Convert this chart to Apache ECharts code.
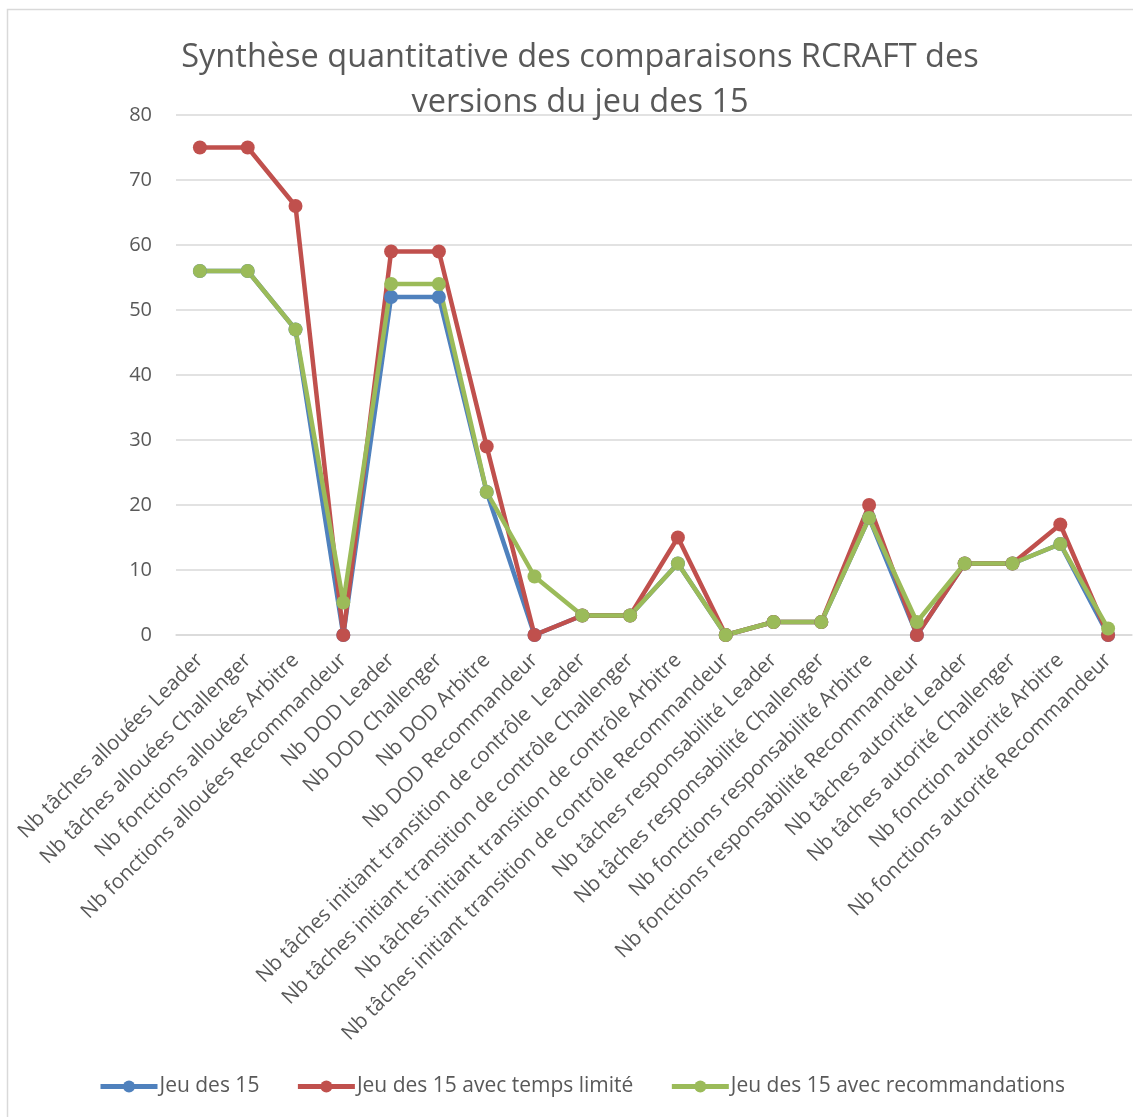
<!DOCTYPE html>
<html>
<head>
<meta charset="utf-8">
<script src="https://cdn.jsdelivr.net/npm/echarts@6/dist/echarts.min.js"></script>
<style>
html, body { margin: 0; padding: 0; background: #fff; }
#chart { width: 1133px; height: 1117px; }
</style>
</head>
<body>
<div id="chart"></div>
<script>
const categories = [
  'Nb tâches allouées Leader',
  'Nb tâches allouées Challenger',
  'Nb fonctions allouées Arbitre',
  'Nb fonctions allouées Recommandeur',
  'Nb DOD Leader',
  'Nb DOD Challenger',
  'Nb DOD Arbitre',
  'Nb DOD Recommandeur',
  'Nb tâches initiant transition de contrôle  Leader',
  'Nb tâches initiant transition de contrôle Challenger',
  'Nb tâches initiant transition de contrôle Arbitre',
  'Nb tâches initiant transition de contrôle Recommandeur',
  'Nb tâches responsabilité Leader',
  'Nb tâches responsabilité Challenger',
  'Nb fonctions responsabilité Arbitre',
  'Nb fonctions responsabilité Recommandeur',
  'Nb tâches autorité Leader',
  'Nb tâches autorité Challenger',
  'Nb fonction autorité Arbitre',
  'Nb fonctions autorité Recommandeur'
]
const jeu15 = [56, 56, 47, 0, 52, 52, 22, 0, 3, 3, 11, 0, 2, 2, 18, 0, 11, 11, 14, 0]
const jeu15Temps = [75, 75, 66, 0, 59, 59, 29, 0, 3, 3, 15, 0, 2, 2, 20, 0, 11, 11, 17, 0]
const jeu15Reco = [56, 56, 47, 5, 54, 54, 22, 9, 3, 3, 11, 0, 2, 2, 18, 2, 11, 11, 14, 1]

const font = 'Open Sans, Liberation Sans, sans-serif'
const txt = '#595959'

const mkSeries = (name, data, color) => ({
  name: name,
  type: 'line',
  data: data,
  symbol: 'circle',
  symbolSize: 14,
  itemStyle: { color: color },
  lineStyle: { width: 4.5, color: color }
})

const chart = echarts.init(document.getElementById('chart'))
chart.setOption({
  animation: false,
  textStyle: { fontFamily: font },
  title: {
    text: 'Synthèse quantitative des comparaisons RCRAFT des\nversions du jeu des 15',
    left: 575,
    textAlign: 'center',
    top: 30,
    textStyle: { fontSize: 32.5, fontWeight: 'normal', color: txt, lineHeight: 45, fontFamily: font }
  },
  legend: {
    top: 1071,
    left: 93,
    itemWidth: 57,
    itemHeight: 15,
    itemGap: 36,
    lineStyle: { width: 5 },
    textStyle: { fontSize: 21, color: txt, fontFamily: font, padding: [0, 0, 0, -3] },
    data: ['Jeu des 15', 'Jeu des 15 avec temps limité', 'Jeu des 15 avec recommandations']
  },
  graphic: [{
    type: 'rect',
    shape: { x: 7.5, y: 9.5, width: 1140, height: 1120 },
    style: { fill: 'none', stroke: '#d9d9d9', lineWidth: 1.5 },
    silent: true
  }],
  grid: { left: 176, right: 1, top: 115, height: 520 },
  xAxis: {
    type: 'category',
    data: categories,
    axisLine: { lineStyle: { color: '#d9d9d9', width: 1.5 } },
    axisTick: { show: false },
    axisLabel: { rotate: 45, interval: 0, fontSize: 20.5, color: txt, margin: 22, fontFamily: font }
  },
  yAxis: {
    type: 'value',
    min: 0,
    max: 80,
    interval: 10,
    axisLine: { show: false },
    axisTick: { show: false },
    axisLabel: { fontSize: 20, color: txt, margin: 24, fontFamily: font },
    splitLine: { lineStyle: { color: '#d9d9d9', width: 1.5 } }
  },
  series: [
    mkSeries('Jeu des 15', jeu15, '#4f81bd'),
    mkSeries('Jeu des 15 avec temps limité', jeu15Temps, '#c0504d'),
    mkSeries('Jeu des 15 avec recommandations', jeu15Reco, '#9bbb59')
  ]
})
</script>
</body>
</html>
